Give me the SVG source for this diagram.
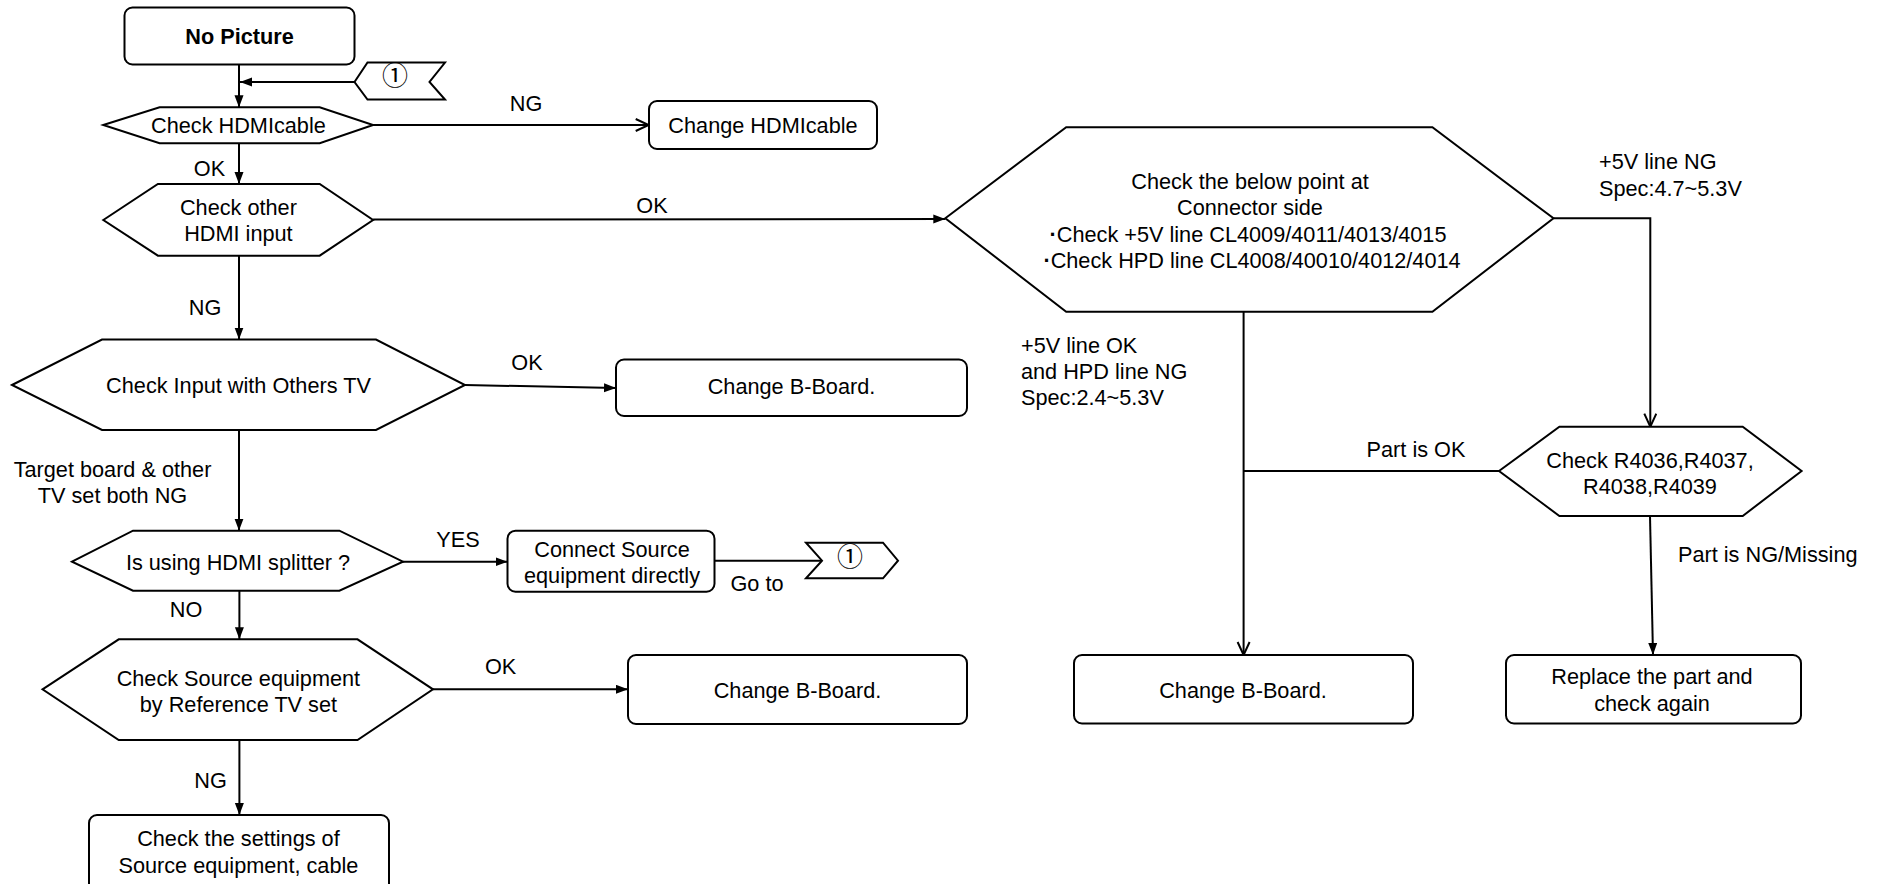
<svg xmlns="http://www.w3.org/2000/svg" width="1879" height="884" viewBox="0 0 1879 884">
<style>
.n{fill:#fff;stroke:#000;stroke-width:2}
.c{fill:none;stroke:#000;stroke-width:2}
text{font-family:"Liberation Sans",Arial,sans-serif;font-size:21.7px;fill:#000}
.m{text-anchor:middle}
.b{font-weight:bold}
.sym{font-family:"Noto Sans CJK JP","Liberation Sans",sans-serif;font-size:26px}
</style>
<defs>
<marker id="af" markerUnits="userSpaceOnUse" markerWidth="13" markerHeight="10" refX="12" refY="4.5" orient="auto">
<path d="M0,0 L12,4.5 L0,9 z" fill="#000"/>
</marker>
<marker id="ao" markerUnits="userSpaceOnUse" markerWidth="16" markerHeight="16" refX="14" refY="7" orient="auto">
<path d="M1,1 L14,7 L1,13" fill="none" stroke="#000" stroke-width="2"/>
</marker>
</defs>
<rect width="1879" height="884" fill="#fff"/>

<g id="connectors">
<line class="c" x1="239" y1="64.5" x2="239" y2="107.3" marker-end="url(#af)"/>
<line class="c" x1="354.5" y1="82" x2="240" y2="82" marker-end="url(#af)"/>
<line class="c" x1="373.1" y1="125" x2="648.7" y2="125" marker-end="url(#ao)"/>
<line class="c" x1="239" y1="143.3" x2="239" y2="184" marker-end="url(#af)"/>
<line class="c" x1="373.1" y1="219.5" x2="945.3" y2="219" marker-end="url(#af)"/>
<line class="c" x1="239" y1="255.7" x2="239" y2="339.5" marker-end="url(#af)"/>
<line class="c" x1="465" y1="385" x2="616" y2="388" marker-end="url(#af)"/>
<line class="c" x1="239" y1="430" x2="239" y2="530.7" marker-end="url(#af)"/>
<line class="c" x1="403" y1="561.7" x2="507.5" y2="561.7" marker-end="url(#af)"/>
<line class="c" x1="714.4" y1="560.7" x2="822" y2="560.7"/>
<line class="c" x1="239.4" y1="590.7" x2="239.4" y2="639.3" marker-end="url(#af)"/>
<line class="c" x1="433" y1="689.3" x2="628" y2="689.3" marker-end="url(#af)"/>
<line class="c" x1="239.4" y1="740" x2="239.4" y2="815" marker-end="url(#af)"/>
<polyline class="c" points="1553.5,218.3 1650.3,218.3 1650.3,426.7" marker-end="url(#ao)"/>
<line class="c" x1="1243.6" y1="311.7" x2="1243.6" y2="655" marker-end="url(#ao)"/>
<line class="c" x1="1499" y1="471" x2="1243.6" y2="471"/>
<line class="c" x1="1650" y1="516" x2="1653" y2="655" marker-end="url(#af)"/>
</g>

<g id="labels">
<text class="m" x="526" y="110.7">NG</text>
<text class="m" x="209.5" y="176">OK</text>
<text class="m" x="652" y="213">OK</text>
<text class="m" x="205" y="315">NG</text>
<text class="m" x="527" y="370">OK</text>
<text class="m" x="112.5" y="477">Target board &amp; other</text>
<text class="m" x="112.5" y="503">TV set both NG</text>
<text class="m" x="458" y="547">YES</text>
<text class="m" x="757" y="591">Go to</text>
<text class="m" x="186" y="616.7">NO</text>
<text class="m" x="500.6" y="674">OK</text>
<text class="m" x="210.6" y="788">NG</text>
<text x="1599" y="169.3">+5V line NG</text>
<text x="1599" y="196">Spec:4.7~5.3V</text>
<text x="1021" y="352.7">+5V line OK</text>
<text x="1021" y="379.3">and HPD line NG</text>
<text x="1021" y="405">Spec:2.4~5.3V</text>
<text class="m" x="1416" y="457.3">Part is OK</text>
<text x="1678" y="561.7">Part is NG/Missing</text>
</g>

<g id="no-picture">
<rect class="n" x="124.5" y="7.5" width="230" height="57" rx="8"/>
<text class="m b" x="239.5" y="44">No Picture</text>
</g>

<g id="goto-1-in">
<polygon class="n" points="354.5,82 367.5,62.5 445,62.5 429.5,82 445,99.5 367.5,99.5"/>
<text class="m sym" x="395" y="85">①</text>
</g>

<g id="check-hdmi-cable">
<polygon class="n" points="103.3,125 159.6,107.3 319.7,107.3 373.1,125 319.7,143.3 159.6,143.3"/>
<text class="m" x="238.4" y="133">Check HDMIcable</text>
</g>

<g id="change-hdmi-cable">
<rect class="n" x="649" y="101" width="228" height="48" rx="8"/>
<text class="m" x="763" y="133">Change HDMIcable</text>
</g>

<g id="check-other-hdmi">
<polygon class="n" points="103.3,220 157.9,184 319.7,184 373.1,220 319.7,255.7 157.9,255.7"/>
<text class="m" x="238.4" y="215">Check other</text>
<text class="m" x="238.4" y="241">HDMI input</text>
</g>

<g id="check-input-others-tv">
<polygon class="n" points="12,385 102,339.5 376,339.5 465,385 376,430 102,430"/>
<text class="m" x="238.5" y="393">Check Input with Others TV</text>
</g>

<g id="change-b-board-1">
<rect class="n" x="616" y="359.5" width="351" height="56.5" rx="8"/>
<text class="m" x="791.5" y="394">Change B-Board.</text>
</g>

<g id="hdmi-splitter">
<polygon class="n" points="72,561.7 133,530.7 339.4,530.7 403,561.7 339.4,590.7 133,590.7"/>
<text class="m" x="238" y="570">Is using HDMI splitter ?</text>
</g>

<g id="connect-source">
<rect class="n" x="507.5" y="530.7" width="207" height="61" rx="8"/>
<text class="m" x="612" y="556.7">Connect Source</text>
<text class="m" x="612" y="583">equipment directly</text>
</g>

<g id="goto-1-out">
<polygon class="n" points="806,542.7 883,542.7 898,560.7 883,578.3 806,578.3 822,560.7"/>
<text class="m sym" x="850" y="566">①</text>
</g>

<g id="check-source-ref-tv">
<polygon class="n" points="42.5,689.3 118.75,639.3 357.5,639.3 433,689.3 357.5,740 118.75,740"/>
<text class="m" x="238.4" y="686">Check Source equipment</text>
<text class="m" x="238.4" y="711.7">by Reference TV set</text>
</g>

<g id="change-b-board-2">
<rect class="n" x="628" y="655" width="339" height="69" rx="8"/>
<text class="m" x="797.5" y="698">Change B-Board.</text>
</g>

<g id="check-settings">
<rect class="n" x="89" y="815" width="300" height="82" rx="8"/>
<text class="m" x="238.4" y="846">Check the settings of</text>
<text class="m" x="238.4" y="872.7">Source equipment, cable</text>
</g>

<g id="check-connector-points">
<polygon class="n" points="945.3,218.3 1066.2,127.3 1432.4,127.3 1553.5,218.3 1432.4,311.7 1066.2,311.7"/>
<text class="m" x="1250" y="189.3">Check the below point at</text>
<text class="m" x="1250" y="215">Connector side</text>
<text class="m" x="1248" y="241.7"><tspan class="b">·</tspan>Check +5V line CL4009/4011/4013/4015</text>
<text class="m" x="1252" y="268.3"><tspan class="b">·</tspan>Check HPD line CL4008/40010/4012/4014</text>
</g>

<g id="check-resistors">
<polygon class="n" points="1499,471 1559.4,426.7 1742.7,426.7 1801.6,471 1742.7,516 1559.4,516"/>
<text class="m" x="1650" y="468.3">Check R4036,R4037,</text>
<text class="m" x="1650" y="494">R4038,R4039</text>
</g>

<g id="change-b-board-3">
<rect class="n" x="1074" y="655" width="339" height="68.5" rx="8"/>
<text class="m" x="1243" y="698">Change B-Board.</text>
</g>

<g id="replace-part">
<rect class="n" x="1506" y="655" width="295" height="68.5" rx="8"/>
<text class="m" x="1652" y="684">Replace the part and</text>
<text class="m" x="1652" y="710.7">check again</text>
</g>
</svg>
